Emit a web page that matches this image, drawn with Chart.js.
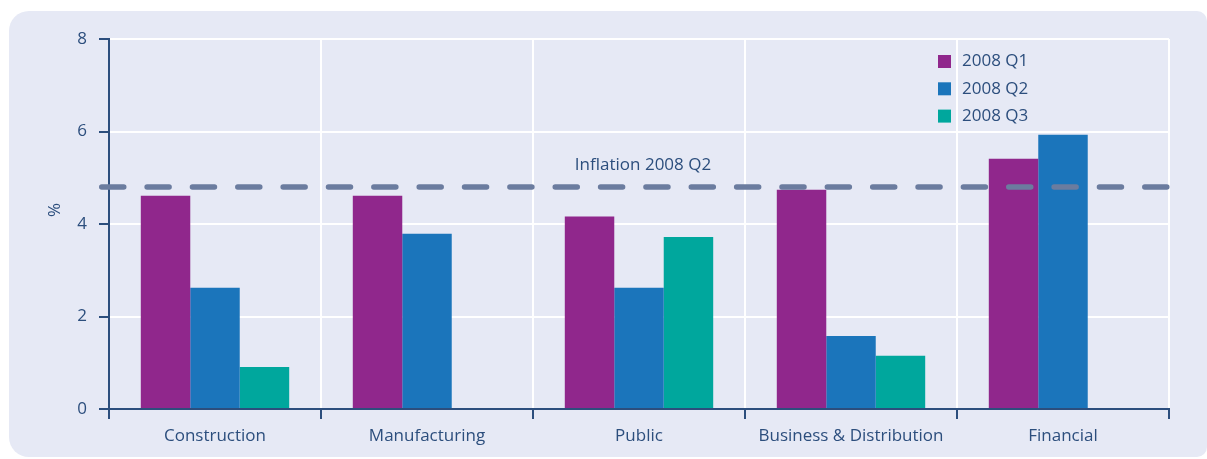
<!DOCTYPE html>
<html>
<head>
<meta charset="utf-8">
<script src="https://cdn.jsdelivr.net/npm/chart.js@4.4.0/dist/chart.umd.min.js"></script>
<style>
  html, body { margin: 0; padding: 0; background: #ffffff; }
  canvas { display: block; }
</style>
</head>
<body>
<canvas id="chart" width="1207" height="459"></canvas>
<script>
// Sector categories along the x axis
const categories = ['Construction', 'Manufacturing', 'Public', 'Business & Distribution', 'Financial'];

// Percentage change per quarter (null = no figure for that quarter)
const q1Values = [4.61, 4.61, 4.16, 4.74, 5.41];
const q2Values = [2.62, 3.79, 2.62, 1.58, 5.93];
const q3Values = [0.91, null, 3.72, 1.15, null];

const seriesLabels = ['2008 Q1', '2008 Q2', '2008 Q3'];

// Reference line
const inflationValue = 4.8;
const inflationLabel = 'Inflation 2008 Q2';

// y axis ticks
const yTicks = [0, 2, 4, 6, 8];

const FONT = '"Open Sans", "Noto Sans", sans-serif';
const TEXT = '#2C4E7D';
const AXIS = '#2C4E7D';
const PANEL = '#E6E9F5';
const COLORS = ['#90278C', '#1B75BB', '#00A79D'];

// Rounded lavender panel behind the chart
const panelPlugin = {
  id: 'panel',
  beforeDraw(chart) {
    const ctx = chart.ctx;
    ctx.save();
    ctx.fillStyle = '#ffffff';
    ctx.fillRect(0, 0, chart.width, chart.height);
    ctx.fillStyle = PANEL;
    ctx.beginPath();
    ctx.roundRect(9, 11, 1198, 446, [20, 10, 10, 20]);
    ctx.fill();
    ctx.restore();
  }
};

// Dashed inflation line, its caption, the "%" title and the legend
const overlayPlugin = {
  id: 'overlay',
  afterDatasetsDraw(chart) {
    const ctx = chart.ctx;
    const y = chart.scales.y.getPixelForValue(inflationValue);
    const x0 = chart.scales.x.left - 10;
    const x1 = chart.scales.x.right + 1;
    ctx.save();

    // inflation line, kept within the axis span
    ctx.save();
    ctx.beginPath();
    ctx.rect(x0, y - 10, x1 - x0, 20);
    ctx.clip();
    ctx.strokeStyle = '#6B7C9F';
    ctx.lineWidth = 5.5;
    ctx.lineCap = 'round';
    ctx.setLineDash([22, 23.35]);
    ctx.beginPath();
    ctx.moveTo(x0 + 2.75, y);
    ctx.lineTo(x1 - 2.75, y);
    ctx.stroke();
    ctx.restore();

    ctx.fillStyle = TEXT;
    ctx.font = '17px ' + FONT;
    ctx.textAlign = 'center';
    ctx.textBaseline = 'middle';
    ctx.fillText(inflationLabel, 643, y - 22);

    // axis unit
    ctx.save();
    ctx.translate(55, 210);
    ctx.rotate(-Math.PI / 2);
    ctx.fillText('%', 0, 0);
    ctx.restore();

    // legend
    ctx.textAlign = 'left';
    seriesLabels.forEach((label, i) => {
      const cy = 61.5 + i * 27.3;
      ctx.fillStyle = COLORS[i];
      ctx.fillRect(938, cy - 6.5, 13, 13);
      ctx.fillStyle = TEXT;
      ctx.fillText(label, 962, cy);
    });

    ctx.restore();
  }
};

const datasets = [q1Values, q2Values, q3Values].map((values, i) => ({
  label: seriesLabels[i],
  data: values,
  backgroundColor: COLORS[i],
  borderWidth: 0,
  categoryPercentage: 0.7,
  barPercentage: 1.0
}));

new Chart(document.getElementById('chart'), {
  type: 'bar',
  data: { labels: categories, datasets },
  plugins: [panelPlugin, overlayPlugin],
  options: {
    responsive: false,
    animation: false,
    events: [],
    layout: { padding: { top: 39, right: 38, bottom: 0, left: 0 } },
    plugins: {
      legend: { display: false },
      tooltip: { enabled: false },
      title: { display: false }
    },
    scales: {
      x: {
        offset: true,
        afterFit(scale) { scale.height = 50; },
        grid: {
          offset: true,
          color: '#ffffff',
          lineWidth: 2,
          drawTicks: true,
          tickLength: 10,
          tickColor: AXIS,
          tickWidth: 2
        },
        border: { display: true, color: AXIS, width: 2 },
        ticks: {
          color: TEXT,
          font: { family: FONT, size: 17 },
          padding: 7,
          maxRotation: 0,
          autoSkip: false
        }
      },
      y: {
        min: 0,
        max: 8,
        afterFit(scale) { scale.width = 109; },
        afterBuildTicks(scale) { scale.ticks = yTicks.map(v => ({ value: v })); },
        grid: {
          color: '#ffffff',
          lineWidth: 2,
          drawTicks: true,
          tickLength: 10,
          tickColor: AXIS,
          tickWidth: 2
        },
        border: { display: true, color: AXIS, width: 2 },
        ticks: {
          color: TEXT,
          font: { family: FONT, size: 17 },
          padding: 12
        }
      }
    }
  }
});
</script>
</body>
</html>
